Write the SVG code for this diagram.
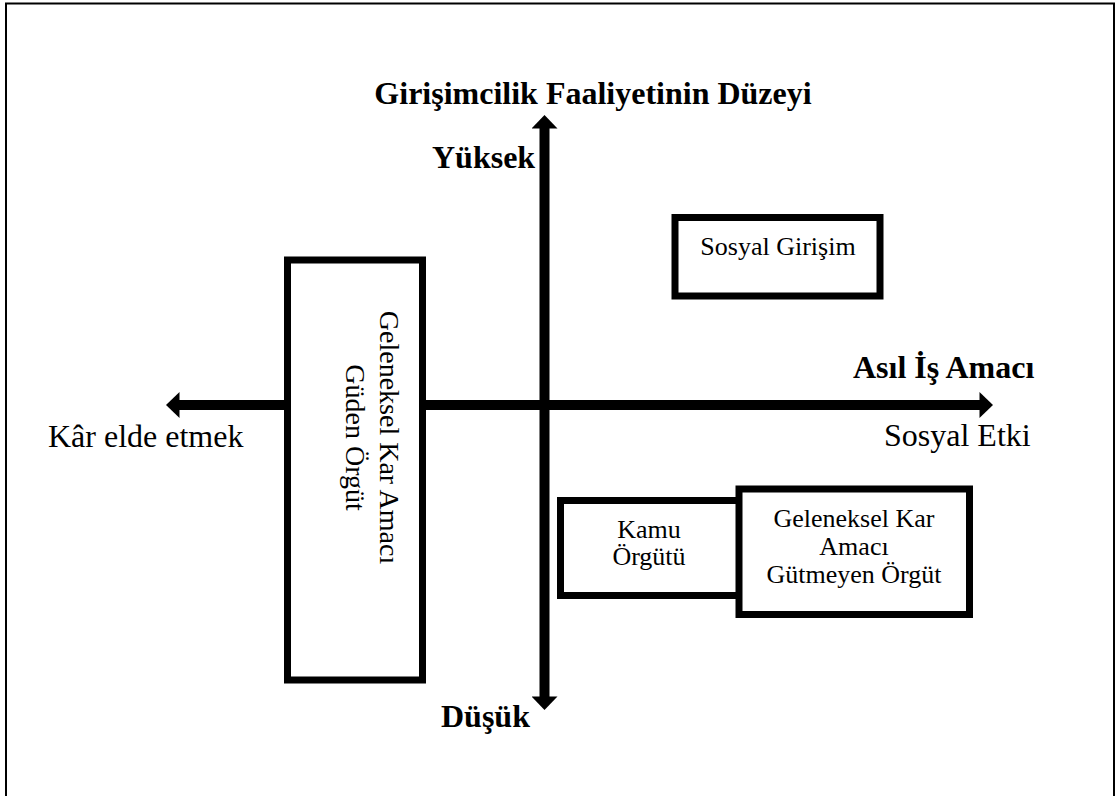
<svg xmlns="http://www.w3.org/2000/svg" width="1117" height="796" viewBox="0 0 1117 796">
  <style>
    .frame { fill: none; stroke: #000; stroke-width: 2; }
    .axis { stroke: #000; stroke-width: 10; fill: none; }
    .box { fill: #fff; stroke: #000; stroke-width: 7; }
    .lbl { font-family: "Liberation Serif", "Times New Roman", serif; fill: #000; }
    .bold { font-weight: bold; }
    .ax { font-size: 32px; }
    .bx { font-size: 26px; }
  </style>
  <defs>
    <marker id="head" markerUnits="userSpaceOnUse" markerWidth="14" markerHeight="26" viewBox="0 0 13 25" refX="0.5" refY="12.5" orient="auto-start-reverse">
      <path d="M0 0 L13 12.5 L0 25 Z" fill="#000"/>
    </marker>
  </defs>

  <rect class="frame" x="6" y="3.5" width="1108" height="800"/>

  <!-- axes -->
  <g id="connectors">
    <path class="axis" d="M179 405 L980 405" marker-start="url(#head)" marker-end="url(#head)"/>
    <path class="axis" d="M544.5 697 L544.5 128" marker-start="url(#head)" marker-end="url(#head)"/>
  </g>

  <!-- axis titles -->
  <g id="axis-labels">
    <text class="lbl bold" x="593" y="104" font-size="32" text-anchor="middle">Girişimcilik Faaliyetinin Düzeyi</text>
    <text class="lbl bold ax" x="432" y="168">Yüksek</text>
    <text class="lbl bold ax" x="441" y="727">Düşük</text>
    <text class="lbl bold ax" x="853" y="378">Asıl İş Amacı</text>
    <text class="lbl ax" x="48" y="447">Kâr elde etmek</text>
    <text class="lbl ax" x="884" y="446">Sosyal Etki</text>
  </g>

  <g id="node-kar-amaci-guden">
    <rect class="box" x="287.5" y="260" width="135" height="420"/>
    <g transform="translate(380 437.5) rotate(90)">
      <text class="lbl" font-size="28" x="0" y="0" text-anchor="middle">Geleneksel Kar Amacı</text>
      <text class="lbl" font-size="28" x="0" y="34" text-anchor="middle">Güden Örgüt</text>
    </g>
  </g>

  <g id="node-sosyal-girisim">
    <rect class="box" x="675" y="217.5" width="205" height="78.5"/>
    <text class="lbl bx" x="778" y="255" text-anchor="middle">Sosyal Girişim</text>
  </g>

  <g id="node-kamu">
    <rect class="box" x="560.5" y="500.5" width="180" height="95"/>
    <text class="lbl bx" x="649" y="538" text-anchor="middle">Kamu</text>
    <text class="lbl bx" x="649" y="565" text-anchor="middle">Örgütü</text>
  </g>

  <g id="node-kar-amaci-gutmeyen">
    <rect class="box" x="739" y="489" width="230.5" height="125.5"/>
    <text class="lbl bx" x="854" y="527" text-anchor="middle">Geleneksel Kar</text>
    <text class="lbl bx" x="854" y="555" text-anchor="middle">Amacı</text>
    <text class="lbl bx" x="854" y="583" text-anchor="middle">Gütmeyen Örgüt</text>
  </g>
</svg>
